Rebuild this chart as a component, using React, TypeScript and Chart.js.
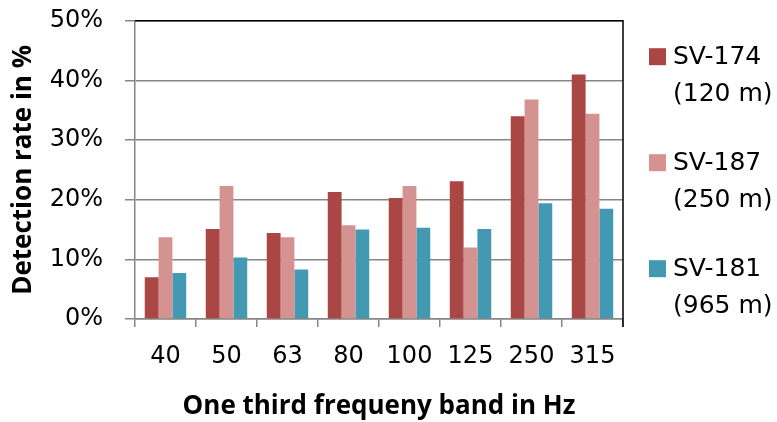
import React, { useEffect, useRef } from "react";
import { Chart, registerables } from "chart.js";

Chart.register(...registerables);

const categories = ["40", "50", "63", "80", "100", "125", "250", "315"];
const sv174 = [7.0, 15.1, 14.4, 21.3, 20.3, 23.1, 34.0, 41.0];
const sv187 = [13.7, 22.3, 13.7, 15.7, 22.3, 12.0, 36.8, 34.4];
const sv181 = [7.7, 10.3, 8.3, 15.0, 15.3, 15.1, 19.4, 18.5];
const seriesNames = ["SV-174", "SV-187", "SV-181"];
const seriesSub = ["(120 m)", "(250 m)", "(965 m)"];
const colors = ["#AA4644", "#D49391", "#4399B1"];
const yTicks = [0, 10, 20, 30, 40, 50];
const xTitle = "One third frequeny band in Hz";
const yTitle = "Detection rate in %";

const FONT = "'DejaVu Sans', sans-serif";
const BOLD = "'Open Sans', sans-serif";

const legendPlugin = {
  id: "customLegend",
  afterDraw(chart: any) {
    const ctx = chart.ctx;
    const area = chart.chartArea;
    ctx.save();
    chart.data.datasets.forEach((ds: any, i: number) => {
      const cy = area.top + 36 + i * 106;
      ctx.fillStyle = ds.backgroundColor;
      ctx.fillRect(649, cy - 8.5, 17, 17);
      ctx.fillStyle = "#000";
      ctx.font = `25px ${FONT}`;
      ctx.textBaseline = "middle";
      ctx.textAlign = "left";
      ctx.fillText(seriesNames[i], 673, cy + 1);
      ctx.fillText(seriesSub[i], 673, cy + 38);
    });
    // x-axis title
    ctx.fillStyle = "#000";
    ctx.font = `bold 26px ${BOLD}`;
    ctx.textAlign = "center";
    ctx.textBaseline = "middle";
    ctx.fillText(xTitle, (area.left + area.right) / 2, area.bottom + 88);
    // top and right border
    ctx.strokeStyle = "#000";
    ctx.lineWidth = 1.5;
    ctx.beginPath();
    ctx.moveTo(area.left, area.top);
    ctx.lineTo(area.right, area.top);
    ctx.lineTo(area.right, area.bottom + 8);
    ctx.stroke();
    ctx.restore();
  },
};

export default function App() {
  const ref = useRef<HTMLCanvasElement>(null);
  useEffect(() => {
    if (!ref.current) return;
    const chart = new Chart(ref.current, {
      type: "bar",
      data: {
        labels: categories,
        datasets: [sv174, sv187, sv181].map((d, i) => ({
          label: seriesNames[i],
          data: d,
          backgroundColor: colors[i],
          borderWidth: 0,
          categoryPercentage: 0.68,
          barPercentage: 1,
        })),
      },
      options: {
        animation: false,
        responsive: false,
        maintainAspectRatio: false,
        layout: { padding: { top: 0, right: 154, left: 8, bottom: 20 } },
        plugins: { legend: { display: false }, tooltip: { enabled: false } },
        scales: {
          x: {
            afterFit: (s: any) => {
              s.height = 83;
            },
            grid: {
              offset: true,
              drawOnChartArea: false,
              tickLength: 8,
              color: "#868686",
              lineWidth: 1.5,
            },
            border: { color: "#868686", width: 1.5 },
            ticks: { color: "#000", font: { family: FONT, size: 24 }, padding: 15.6 },
            title: { display: false },
          },
          y: {
            min: 0,
            max: 50,
            afterBuildTicks: (s: any) => {
              s.ticks = yTicks.map((v) => ({ value: v }));
            },
            afterFit: (s: any) => {
              s.paddingTop = 20.7;
              s.width = 127;
            },
            grid: { color: "#868686", lineWidth: 1.5, tickLength: 10 },
            border: { color: "#868686", width: 1.5 },
            ticks: {
              color: "#000",
              font: { family: FONT, size: 24 },
              padding: 22,
              callback: (v: any) => v + "%",
            },
            title: {
              display: true,
              text: yTitle,
              color: "#000",
              font: { family: BOLD, size: 26, weight: "bold" },
              padding: { top: 0, bottom: 0 },
            },
          },
        },
      },
      plugins: [legendPlugin],
    });
    return () => chart.destroy();
  }, []);
  return (
    <div style={{ position: "fixed", left: 0, top: 0, width: 777, height: 422, background: "#fff" }}>
      <canvas ref={ref} width={777} height={422} style={{ width: 777, height: 422 }} />
    </div>
  );
}
